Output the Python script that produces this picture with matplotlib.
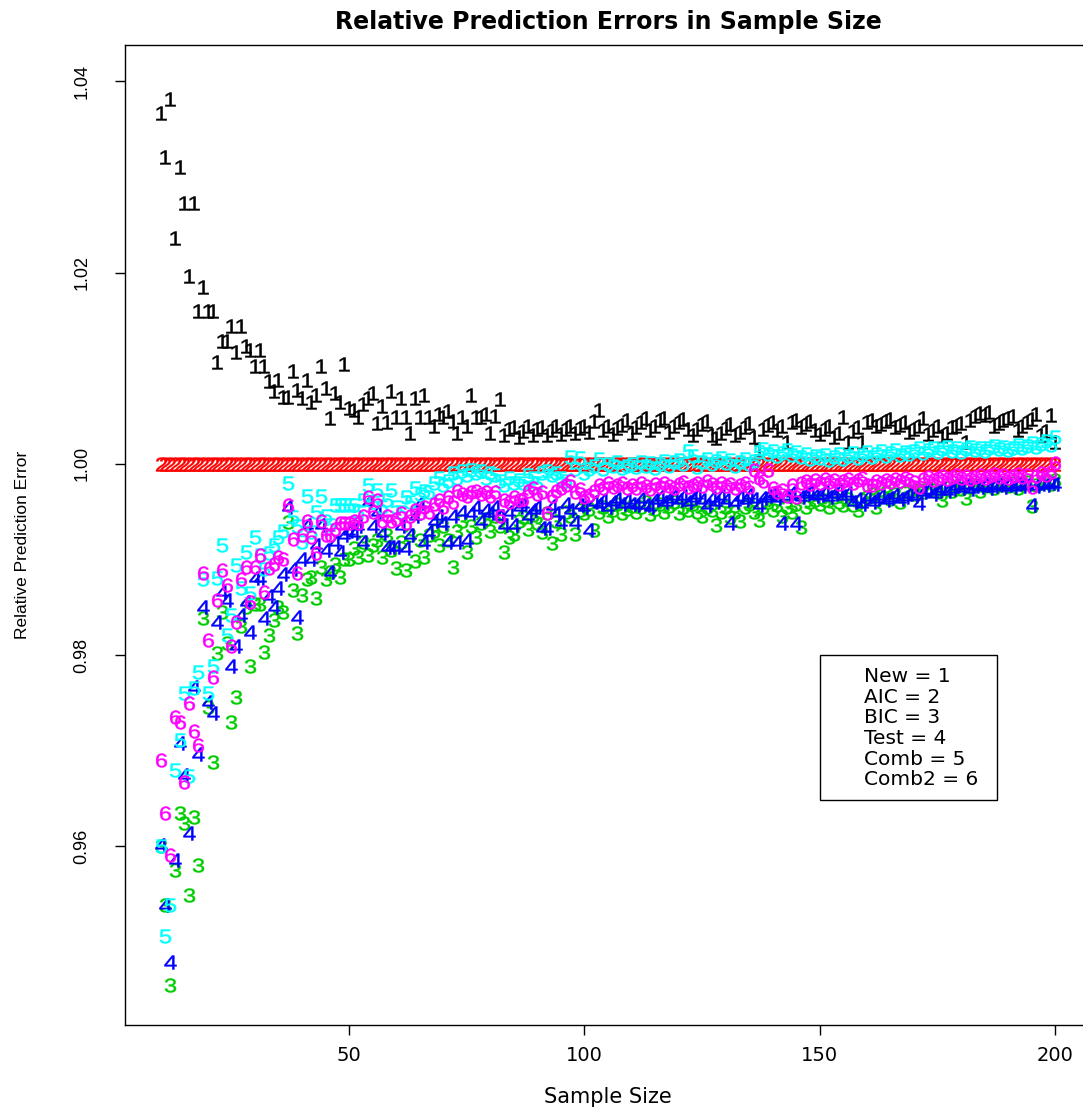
import matplotlib
matplotlib.use("Agg")
import matplotlib.pyplot as plt
from matplotlib.textpath import TextPath
from matplotlib.font_manager import FontProperties
from matplotlib.transforms import Affine2D
from matplotlib.path import Path
from matplotlib.patches import Rectangle

plt.rcParams['font.family'] = ['Liberation Sans', 'DejaVu Sans']

# sample sizes 10..200
sample_size = list(range(10, 201))

# relative prediction errors (one value per sample size)
new_err = [
    1.0367, 1.0321, 1.0381, 1.0236, 1.0310, 1.0273, 1.0196, 1.0273, 1.0160, 1.0185,
    1.0160, 1.0160, 1.0106, 1.0128, 1.0128, 1.0144, 1.0117, 1.0144, 1.0123, 1.0119,
    1.0102, 1.0119, 1.0102, 1.0087, 1.0076, 1.0088, 1.0070, 1.0070, 1.0097, 1.0077,
    1.0069, 1.0088, 1.0065, 1.0072, 1.0102, 1.0079, 1.0048, 1.0074, 1.0065, 1.0104,
    1.0058, 1.0056, 1.0049, 1.0062, 1.0069, 1.0074, 1.0043, 1.0060, 1.0044, 1.0076,
    1.0049, 1.0069, 1.0049, 1.0032, 1.0069, 1.0049, 1.0072, 1.0049, 1.0040, 1.0052,
    1.0049, 1.0055, 1.0045, 1.0032, 1.0049, 1.0040, 1.0072, 1.0049, 1.0049, 1.0052,
    1.0032, 1.0050, 1.0068, 1.0030, 1.0036, 1.0038, 1.0028, 1.0034, 1.0040, 1.0030,
    1.0036, 1.0038, 1.0030, 1.0035, 1.0039, 1.0031, 1.0036, 1.0040, 1.0032, 1.0037,
    1.0040, 1.0033, 1.0045, 1.0056, 1.0035, 1.0040, 1.0031, 1.0037, 1.0041, 1.0046,
    1.0032, 1.0038, 1.0044, 1.0048, 1.0035, 1.0040, 1.0046, 1.0048, 1.0033, 1.0039,
    1.0044, 1.0047, 1.0036, 1.0030, 1.0036, 1.0042, 1.0045, 1.0030, 1.0027, 1.0032,
    1.0037, 1.0042, 1.0030, 1.0033, 1.0038, 1.0043, 1.0028, 1.0015, 1.0036, 1.0041,
    1.0044, 1.0035, 1.0040, 1.0023, 1.0044, 1.0046, 1.0038, 1.0042, 1.0045, 1.0035,
    1.0031, 1.0036, 1.0040, 1.0028, 1.0032, 1.0049, 1.0023, 1.0034, 1.0038, 1.0023,
    1.0044, 1.0046, 1.0040, 1.0042, 1.0045, 1.0047, 1.0038, 1.0041, 1.0044, 1.0033,
    1.0036, 1.0040, 1.0048, 1.0031, 1.0035, 1.0039, 1.0029, 1.0032, 1.0038, 1.0040,
    1.0043, 1.0023, 1.0046, 1.0050, 1.0053, 1.0051, 1.0054, 1.0040, 1.0043, 1.0046,
    1.0048, 1.0050, 1.0035, 1.0040, 1.0044, 1.0047, 1.0052, 1.0030, 1.0034, 1.0051,
    1.0023,
]
# AIC is the reference method, so its relative error is 1 everywhere
aic_err = [1.0] * len(sample_size)
bic_err = [
    0.9600, 0.9539, 0.9455, 0.9575, 0.9635, 0.9624, 0.9549, 0.9631, 0.9580, 0.9839,
    0.9746, 0.9688, 0.9802, 0.9845, 0.9813, 0.9730, 0.9756, 0.9830, 0.9850, 0.9788,
    0.9853, 0.9853, 0.9803, 0.9821, 0.9837, 0.9850, 0.9845, 0.9939, 0.9868, 0.9823,
    0.9863, 0.9880, 0.9882, 0.9860, 0.9892, 0.9880, 0.9887, 0.9895, 0.9882, 0.9900,
    0.9900, 0.9912, 0.9902, 0.9918, 0.9905, 0.9915, 0.9920, 0.9902, 0.9925, 0.9910,
    0.9891, 0.9918, 0.9889, 0.9925, 0.9898, 0.9920, 0.9902, 0.9925, 0.9930, 0.9915,
    0.9935, 0.9920, 0.9892, 0.9930, 0.9940, 0.9908, 0.9935, 0.9923, 0.9938, 0.9942,
    0.9930, 0.9945, 0.9935, 0.9908, 0.9923, 0.9927, 0.9940, 0.9944, 0.9932, 0.9946,
    0.9938, 0.9929, 0.9948, 0.9917, 0.9940, 0.9927, 0.9950, 0.9945, 0.9927, 0.9952,
    0.9948, 0.9953, 0.9931, 0.9950, 0.9955, 0.9945, 0.9952, 0.9958, 0.9948, 0.9953,
    0.9956, 0.9950, 0.9955, 0.9960, 0.9947, 0.9953, 0.9958, 0.9950, 0.9956, 0.9960,
    0.9948, 0.9955, 0.9952, 0.9958, 0.9950, 0.9945, 0.9955, 0.9952, 0.9936, 0.9950,
    0.9955, 0.9944, 0.9950, 0.9940, 0.9955, 0.9958, 0.9950, 0.9941, 0.9955, 0.9960,
    0.9952, 0.9957, 0.9945, 0.9955, 0.9950, 0.9958, 0.9934, 0.9955, 0.9960, 0.9962,
    0.9958, 0.9962, 0.9955, 0.9965, 0.9960, 0.9957, 0.9963, 0.9957, 0.9952, 0.9962,
    0.9965, 0.9968, 0.9955, 0.9966, 0.9970, 0.9963, 0.9968, 0.9960, 0.9970, 0.9972,
    0.9968, 0.9973, 0.9970, 0.9975, 0.9973, 0.9970, 0.9962, 0.9975, 0.9972, 0.9977,
    0.9974, 0.9964, 0.9976, 0.9978, 0.9972, 0.9977, 0.9979, 0.9975, 0.9978, 0.9980,
    0.9977, 0.9980, 0.9975, 0.9979, 0.9981, 0.9956, 0.9978, 0.9980, 0.9982, 0.9979,
    0.9983,
]
test_err = [
    0.9601, 0.9539, 0.9479, 0.9586, 0.9708, 0.9675, 0.9614, 0.9766, 0.9696, 0.9850,
    0.9751, 0.9739, 0.9835, 0.9866, 0.9858, 0.9788, 0.9809, 0.9842, 0.9855, 0.9824,
    0.9881, 0.9881, 0.9839, 0.9862, 0.9850, 0.9870, 0.9885, 0.9955, 0.9890, 0.9840,
    0.9900, 0.9936, 0.9900, 0.9915, 0.9936, 0.9910, 0.9887, 0.9918, 0.9908, 0.9925,
    0.9930, 0.9928, 0.9935, 0.9918, 0.9960, 0.9935, 0.9950, 0.9928, 0.9913, 0.9913,
    0.9913, 0.9935, 0.9912, 0.9926, 0.9945, 0.9959, 0.9918, 0.9929, 0.9940, 0.9945,
    0.9938, 0.9918, 0.9945, 0.9918, 0.9950, 0.9920, 0.9948, 0.9955, 0.9940, 0.9952,
    0.9948, 0.9955, 0.9945, 0.9936, 0.9950, 0.9936, 0.9955, 0.9958, 0.9945, 0.9952,
    0.9955, 0.9933, 0.9933, 0.9956, 0.9948, 0.9939, 0.9958, 0.9952, 0.9939, 0.9957,
    0.9955, 0.9931, 0.9960, 0.9958, 0.9962, 0.9955, 0.9960, 0.9963, 0.9958, 0.9962,
    0.9958, 0.9957, 0.9963, 0.9957, 0.9955, 0.9962, 0.9965, 0.9960, 0.9963, 0.9966,
    0.9962, 0.9966, 0.9960, 0.9964, 0.9967, 0.9962, 0.9957, 0.9964, 0.9960, 0.9966,
    0.9962, 0.9938, 0.9960, 0.9965, 0.9962, 0.9967, 0.9963, 0.9957, 0.9964, 0.9966,
    0.9968, 0.9964, 0.9938, 0.9966, 0.9969, 0.9938, 0.9965, 0.9968, 0.9970, 0.9966,
    0.9967, 0.9970, 0.9965, 0.9968, 0.9971, 0.9966, 0.9969, 0.9960, 0.9963, 0.9958,
    0.9965, 0.9960, 0.9963, 0.9966, 0.9962, 0.9964, 0.9967, 0.9963, 0.9965, 0.9968,
    0.9966, 0.9959, 0.9970, 0.9973, 0.9968, 0.9972, 0.9975, 0.9971, 0.9974, 0.9977,
    0.9975, 0.9978, 0.9974, 0.9977, 0.9976, 0.9978, 0.9975, 0.9977, 0.9978, 0.9976,
    0.9978, 0.9976, 0.9979, 0.9977, 0.9978, 0.9957, 0.9977, 0.9979, 0.9978, 0.9980,
    0.9979,
]
comb_err = [
    0.9600, 0.9506, 0.9539, 0.9680, 0.9711, 0.9760, 0.9673, 0.9765, 0.9782, 0.9879,
    0.9760, 0.9788, 0.9881, 0.9915, 0.9821, 0.9842, 0.9894, 0.9870, 0.9908, 0.9865,
    0.9923, 0.9905, 0.9890, 0.9907, 0.9915, 0.9923, 0.9930, 0.9980, 0.9944, 0.9935,
    0.9918, 0.9966, 0.9929, 0.9950, 0.9966, 0.9945, 0.9936, 0.9957, 0.9957, 0.9957,
    0.9957, 0.9957, 0.9950, 0.9962, 0.9978, 0.9960, 0.9973, 0.9955, 0.9962, 0.9973,
    0.9955, 0.9950, 0.9965, 0.9960, 0.9975, 0.9968, 0.9972, 0.9970, 0.9980, 0.9985,
    0.9978, 0.9982, 0.9990, 0.9985, 0.9992, 0.9988, 0.9993, 0.9990, 0.9992, 0.9985,
    0.9990, 0.9988, 0.9982, 0.9978, 0.9985, 0.9980, 0.9983, 0.9980, 0.9988, 0.9985,
    0.9980, 0.9990, 0.9992, 0.9988, 0.9990, 0.9985, 0.9982, 1.0007, 0.9995, 1.0006,
    0.9990, 0.9995, 0.9998, 1.0005, 0.9995, 1.0000, 0.9998, 1.0002, 0.9996, 0.9998,
    1.0000, 0.9997, 1.0002, 0.9998, 1.0001, 0.9996, 1.0000, 1.0003, 0.9998, 1.0002,
    1.0004, 1.0000, 1.0013, 1.0008, 0.9997, 1.0002, 1.0005, 1.0000, 1.0003, 1.0006,
    1.0001, 1.0004, 0.9998, 1.0002, 1.0005, 1.0000, 1.0003, 1.0012, 1.0015, 1.0010,
    1.0013, 1.0008, 1.0011, 1.0014, 1.0009, 1.0012, 1.0007, 1.0010, 1.0005, 1.0008,
    1.0006, 1.0009, 1.0004, 1.0007, 1.0010, 1.0005, 1.0008, 1.0011, 1.0006, 1.0009,
    1.0012, 1.0007, 1.0010, 1.0013, 1.0008, 1.0011, 1.0014, 1.0009, 1.0012, 1.0010,
    1.0013, 1.0016, 1.0011, 1.0014, 1.0017, 1.0012, 1.0015, 1.0018, 1.0013, 1.0016,
    1.0012, 1.0015, 1.0018, 1.0014, 1.0017, 1.0013, 1.0016, 1.0019, 1.0015, 1.0018,
    1.0014, 1.0017, 1.0020, 1.0016, 1.0019, 1.0022, 1.0018, 1.0021, 1.0024, 1.0020,
    1.0028,
]
comb2_err = [
    0.9690, 0.9635, 0.9591, 0.9735, 0.9730, 0.9667, 0.9750, 0.9720, 0.9706, 0.9886,
    0.9816, 0.9777, 0.9858, 0.9889, 0.9873, 0.9809, 0.9835, 0.9879, 0.9892, 0.9855,
    0.9892, 0.9905, 0.9866, 0.9891, 0.9895, 0.9902, 0.9900, 0.9957, 0.9921, 0.9886,
    0.9925, 0.9940, 0.9923, 0.9907, 0.9940, 0.9926, 0.9926, 0.9932, 0.9938, 0.9938,
    0.9938, 0.9940, 0.9938, 0.9945, 0.9965, 0.9950, 0.9962, 0.9940, 0.9945, 0.9940,
    0.9942, 0.9948, 0.9938, 0.9945, 0.9952, 0.9948, 0.9955, 0.9950, 0.9958, 0.9962,
    0.9955, 0.9965, 0.9960, 0.9972, 0.9968, 0.9966, 0.9970, 0.9972, 0.9968, 0.9970,
    0.9966, 0.9970, 0.9945, 0.9962, 0.9960, 0.9965, 0.9962, 0.9963, 0.9972, 0.9975,
    0.9968, 0.9970, 0.9949, 0.9966, 0.9972, 0.9975, 0.9978, 0.9982, 0.9970, 0.9974,
    0.9965, 0.9967, 0.9972, 0.9978, 0.9975, 0.9980, 0.9976, 0.9978, 0.9980, 0.9975,
    0.9978, 0.9975, 0.9980, 0.9977, 0.9974, 0.9979, 0.9976, 0.9980, 0.9977, 0.9975,
    0.9979, 0.9981, 0.9976, 0.9978, 0.9980, 0.9977, 0.9982, 0.9979, 0.9976, 0.9980,
    0.9977, 0.9979, 0.9975, 0.9978, 0.9980, 0.9976, 0.9994, 0.9985, 0.9982, 0.9993,
    0.9975, 0.9970, 0.9973, 0.9966, 0.9978, 0.9965, 0.9980, 0.9982, 0.9979, 0.9983,
    0.9980, 0.9984, 0.9981, 0.9983, 0.9979, 0.9982, 0.9984, 0.9980, 0.9983, 0.9985,
    0.9978, 0.9978, 0.9982, 0.9980, 0.9983, 0.9981, 0.9984, 0.9982, 0.9985, 0.9983,
    0.9981, 0.9976, 0.9984, 0.9986, 0.9983, 0.9985, 0.9987, 0.9984, 0.9986, 0.9988,
    0.9985, 0.9987, 0.9984, 0.9986, 0.9988, 0.9985, 0.9987, 0.9989, 0.9986, 0.9988,
    0.9985, 0.9987, 0.9989, 0.9986, 0.9988, 0.9976, 0.9987, 0.9990, 0.9988, 0.9991,
    1.0001,
]

series = [new_err, aic_err, bic_err, test_err, comb_err, comb2_err]
colors = ['black', 'red', '#00CD00', 'blue', 'cyan', 'magenta']
legend_labels = ['New = 1', 'AIC = 2', 'BIC = 3', 'Test = 4', 'Comb = 5', 'Comb2 = 6']
xticks = [50, 100, 150, 200]
yticks = [0.96, 0.98, 1.00, 1.02, 1.04]


def digit_marker(ch, stretch=1.2):
    # glyph outline used as plotting symbol (like R's pch = "1"), a bit widened
    tp = TextPath((0, 0), ch, size=1, prop=FontProperties(family='Liberation Sans'))
    codes = tp.codes
    keep = codes != Path.CLOSEPOLY
    vx = tp.vertices[keep]
    cx = (vx[:, 0].min() + vx[:, 0].max()) / 2
    cy = (vx[:, 1].min() + vx[:, 1].max()) / 2
    tr = Affine2D().translate(-cx, -cy).scale(stretch, 1)
    verts = tr.transform(tp.vertices)
    verts[~keep] = 0.0  # close markers sit at the glyph centre
    return Path(verts, codes)


fig = plt.figure(figsize=(10.83, 11.12), dpi=100)
ax = fig.add_axes([125 / 1083, 87 / 1112, 966 / 1083, 980 / 1112])

for i, (vals, col) in enumerate(zip(series, colors)):
    ax.plot(sample_size, vals, linestyle='none', marker=digit_marker(str(i + 1)),
            markersize=10, color=col, markeredgewidth=0.3, markeredgecolor=col)

ax.set_xlim(2.4, 207.6)
ax.set_ylim(0.9413, 1.0438)
ax.set_xticks(xticks)
ax.set_xticklabels([str(t) for t in xticks], fontsize=14, family='DejaVu Sans')
ax.set_yticks(yticks)
ax.set_yticklabels([f"{t:.2f}" for t in yticks], fontsize=13, rotation=90, va='center')
ax.tick_params(axis='both', direction='out', length=7, width=1, color='black')
ax.tick_params(axis='x', pad=8)
ax.tick_params(axis='y', pad=18)
for sp in ax.spines.values():
    sp.set_linewidth(1)

ax.set_title('Relative Prediction Errors in Sample Size', fontsize=17, fontweight='bold',
             family='DejaVu Sans', y=1.0235, va='center', pad=0)
ax.set_xlabel('Sample Size', fontsize=15, family='DejaVu Sans')
ax.xaxis.set_label_coords(0.5, -0.0735)
ax.xaxis.label.set_va('center')
ax.set_ylabel('Relative Prediction Error', fontsize=12.5)
ax.yaxis.set_label_coords(-0.1066, 0.49)
ax.yaxis.label.set_va('center')

# legend box (R style, no symbols)
leg_x, leg_top, leg_w, leg_h = 150.0, 0.9800, 37.6, 0.01517
ax.add_patch(Rectangle((leg_x, leg_top - leg_h), leg_w, leg_h, facecolor='white',
                       edgecolor='black', linewidth=1, zorder=5))
for k, lab in enumerate(legend_labels):
    ax.text(leg_x + 9.35, leg_top - 0.00228 - k * 0.002155, lab, fontsize=14.5,
            family='DejaVu Sans', ha='left', va='center', zorder=6)

fig.savefig('out.png', dpi=100)
